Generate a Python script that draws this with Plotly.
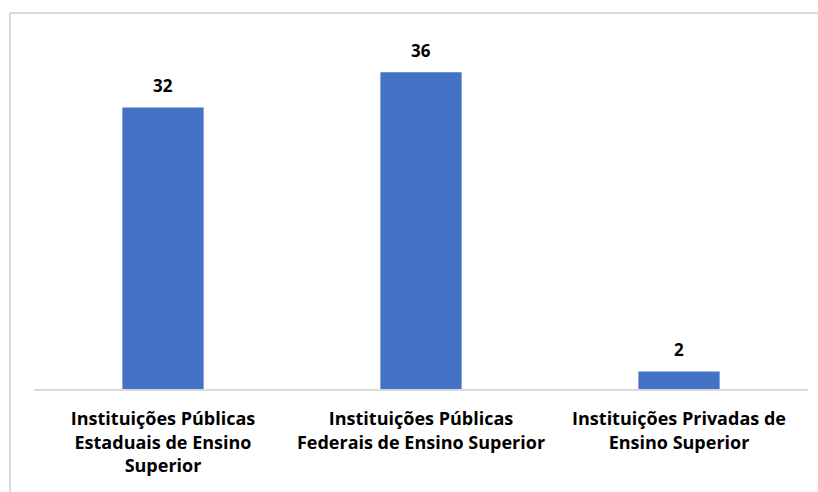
import plotly.graph_objects as go

# Number of institutions by type
categories = [
    "Instituições Públicas<br>Estaduais de Ensino<br>Superior",
    "Instituições Públicas<br>Federais de Ensino Superior",
    "Instituições Privadas de<br>Ensino Superior",
]
values = [32, 36, 2]

FONT = "'Open Sans', 'Noto Sans', 'DejaVu Sans', sans-serif"
GRID = "#d9d9d9"

fig = go.Figure(
    go.Bar(
        x=[0, 1, 2],
        y=values,
        width=0.315,
        marker=dict(color="#4472c4", line=dict(width=0)),
    )
)

# Value labels above each bar
for i, v in enumerate(values):
    fig.add_annotation(
        x=i, y=v, text=str(v), showarrow=False,
        xanchor="center", yanchor="bottom", yshift=8,
        font=dict(family=FONT, size=17, color="#000000", weight="bold"),
    )

W, H = 818, 492
L, R, T, B = 34, 10, 37, 103
pw, ph = W - L - R, H - T - B

def px_x(px):
    return (px - L) / pw

def px_y(py):
    return (H - B - py) / ph

# Outer chart frame (top and left edges)
frame = dict(type="line", xref="paper", yref="paper",
             line=dict(color=GRID, width=2), layer="below")
fig.add_shape(**frame, x0=px_x(10), x1=px_x(818), y0=px_y(13), y1=px_y(13))
fig.add_shape(**frame, x0=px_x(10), x1=px_x(10), y0=px_y(13), y1=px_y(492))

fig.update_layout(
    width=W, height=H,
    margin=dict(l=L, r=R, t=T, b=B),
    paper_bgcolor="white", plot_bgcolor="white",
    showlegend=False,
    xaxis=dict(
        tickmode="array", tickvals=[0, 1, 2], ticktext=categories,
        range=[-0.5, 2.5],
        showgrid=False, zeroline=False,
        showline=True, linecolor=GRID, linewidth=1.5,
        ticks="", ticklabelstandoff=13,
        tickfont=dict(family=FONT, size=18, color="#000000", weight="bold"),
    ),
    yaxis=dict(range=[0, 40], visible=False),
)

fig.write_html("out.html")
